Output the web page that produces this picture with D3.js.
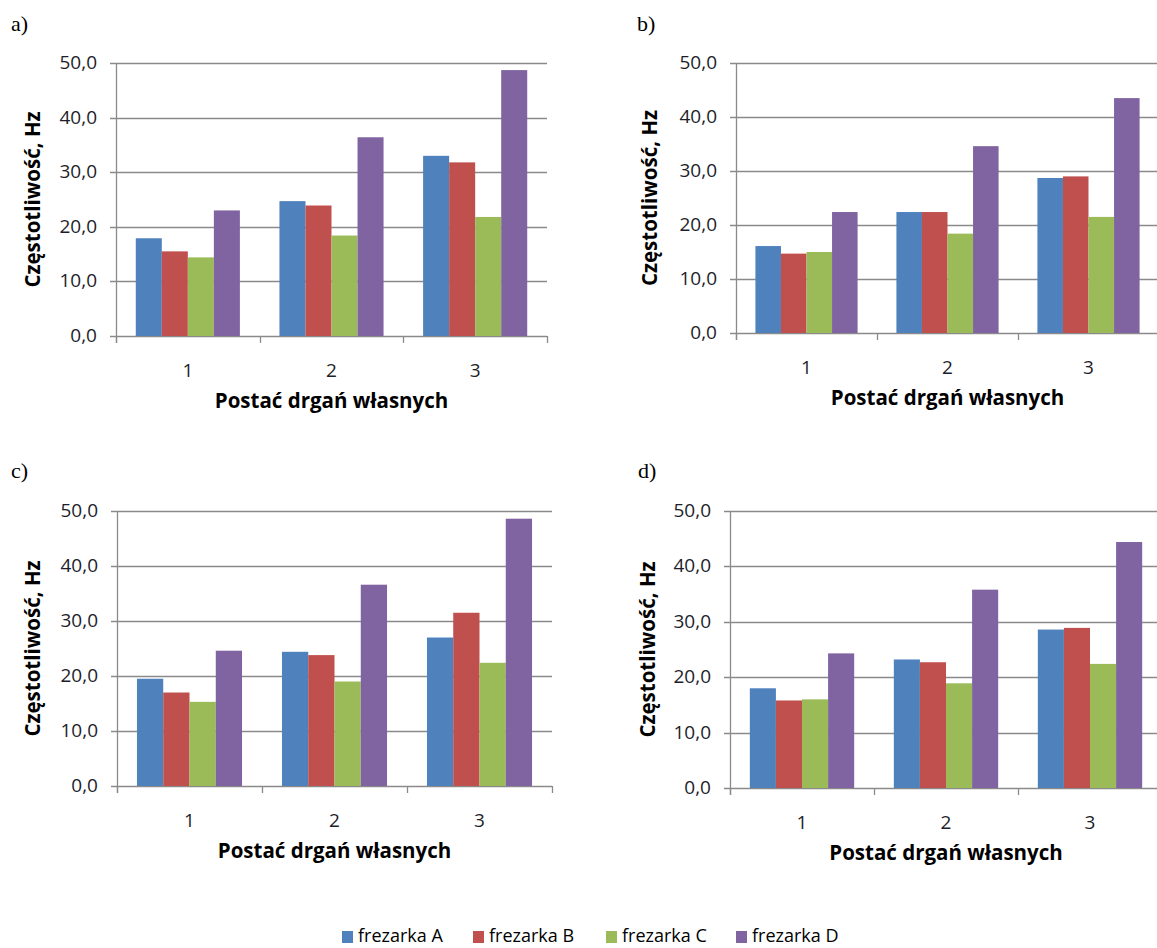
<!DOCTYPE html>
<html>
<head>
<meta charset="utf-8">
<script src="https://cdn.jsdelivr.net/npm/d3@7"></script>
<style>
  body { margin: 0; background: #fff; }
  svg { display: block; }
  .tick-label { font-family: "Open Sans", Lato, sans-serif; font-size: 19px; fill: #1e1e2a; }
  .axis-title { font-family: "Open Sans", Lato, sans-serif; font-size: 20.5px; font-weight: bold; fill: #000; }
  .panel-label { font-family: "Liberation Serif", "Times New Roman", serif; font-size: 22px; fill: #000; }
  .legend-label { font-family: "Open Sans", Lato, sans-serif; font-size: 18px; fill: #000; }
</style>
</head>
<body>
<div id="chart"></div>
<script>
// categories and series
const categories = ["1", "2", "3"];
const seriesNames = ["frezarka A", "frezarka B", "frezarka C", "frezarka D"];
const seriesColors = ["#4F81BD", "#C0504D", "#9BBB59", "#8064A2"];
const yTicks = [0, 10, 20, 30, 40, 50];

// values per panel: one row per series (A, B, C, D), one column per category
const valuesA = [
    [17.9, 24.7, 33.0],
    [15.5, 23.9, 31.8],
    [14.4, 18.4, 21.8],
    [23.0, 36.4, 48.7]
];
const valuesB = [
    [16.1, 22.4, 28.7],
    [14.7, 22.4, 29.0],
    [15.0, 18.4, 21.5],
    [22.4, 34.6, 43.5]
];
const valuesC = [
    [19.5, 24.4, 27.0],
    [17.0, 23.8, 31.5],
    [15.3, 19.0, 22.4],
    [24.6, 36.6, 48.6]
];
const valuesD = [
    [18.0, 23.2, 28.6],
    [15.8, 22.7, 28.9],
    [16.0, 18.9, 22.4],
    [24.3, 35.8, 44.4]
];

const yTitle = "Częstotliwość, Hz";
const xTitle = "Postać drgań własnych";

// layout of the four panels
const panels = [
    { label: "a)", values: valuesA, x0: 116, x1: 547, top: 63, zero: 336, lx: 11, ly: 31, ytx: 33 },
    { label: "b)", values: valuesB, x0: 736, x1: 1159, top: 63, zero: 333, lx: 637, ly: 31, ytx: 650 },
    { label: "c)", values: valuesC, x0: 117, x1: 552, top: 511, zero: 786, lx: 11, ly: 478, ytx: 33 },
    { label: "d)", values: valuesD, x0: 730, x1: 1162, top: 511, zero: 788, lx: 638, ly: 478, ytx: 648 }
];

const width = 1157, height = 948;
const gridColor = "#8a8a8a";
const fmt = v => d3.format(".1f")(v).replace(".", ",");

const svg = d3.select("#chart")
    .append("svg")
    .attr("width", width)
    .attr("height", height);

svg.append("rect").attr("width", width).attr("height", height).attr("fill", "#fff");

panels.forEach(p => {
    const g = svg.append("g");

    const x = d3.scaleBand().domain(categories).range([p.x0, p.x1]).paddingInner(0).paddingOuter(0);
    const xs = d3.scaleBand().domain(seriesNames).range([0, x.bandwidth()]).paddingInner(0).paddingOuter(0.76);
    const y = d3.scaleLinear().domain([0, 50]).range([p.zero, p.top]);

    // gridlines with short outer ticks
    g.append("g").selectAll("line")
        .data(yTicks)
        .join("line")
        .attr("x1", p.x0 - 6)
        .attr("x2", p.x1)
        .attr("y1", d => Math.round(y(d)) + 0.5)
        .attr("y2", d => Math.round(y(d)) + 0.5)
        .attr("stroke", gridColor)
        .attr("stroke-width", 1.3);

    // y tick labels
    g.append("g").selectAll("text")
        .data(yTicks)
        .join("text")
        .attr("class", "tick-label")
        .attr("x", p.x0 - 19)
        .attr("y", d => y(d) + 6)
        .attr("text-anchor", "end")
        .text(fmt);

    // bars
    seriesNames.forEach((s, si) => {
        g.append("g").selectAll("rect")
            .data(p.values[si].map((v, ci) => ({ cat: categories[ci], v })))
            .join("rect")
            .attr("x", d => x(d.cat) + xs(s))
            .attr("y", d => y(d.v))
            .attr("width", xs.bandwidth())
            .attr("height", d => y(0) - y(d.v))
            .attr("fill", seriesColors[si]);
    });

    // y axis line
    g.append("line")
        .attr("x1", Math.round(p.x0) + 0.5).attr("x2", Math.round(p.x0) + 0.5)
        .attr("y1", p.top).attr("y2", p.zero + 7)
        .attr("stroke", gridColor).attr("stroke-width", 1.3);

    // x category boundary ticks
    const bounds = categories.map(c => x(c)).concat([p.x1]);
    g.append("g").selectAll("line")
        .data(bounds)
        .join("line")
        .attr("x1", d => Math.round(d) + 0.5).attr("x2", d => Math.round(d) + 0.5)
        .attr("y1", p.zero).attr("y2", p.zero + 7)
        .attr("stroke", gridColor).attr("stroke-width", 1.3);

    // category labels
    g.append("g").selectAll("text")
        .data(categories)
        .join("text")
        .attr("class", "tick-label")
        .attr("x", d => x(d) + x.bandwidth() / 2)
        .attr("y", p.zero + 41)
        .attr("text-anchor", "middle")
        .text(d => d);

    // axis titles
    g.append("text")
        .attr("class", "axis-title")
        .attr("x", (p.x0 + p.x1) / 2)
        .attr("y", p.zero + 72)
        .attr("text-anchor", "middle")
        .text(xTitle);

    g.append("text")
        .attr("class", "axis-title")
        .attr("transform", `translate(${p.ytx + 7},${(p.top + p.zero) / 2}) rotate(-90)`)
        .attr("text-anchor", "middle")
        .text(yTitle);

    // panel letter
    g.append("text")
        .attr("class", "panel-label")
        .attr("x", p.lx)
        .attr("y", p.ly)
        .text(p.label);
});

// legend along the bottom
const legendX = [342, 473, 606, 736];
const legend = svg.append("g");
seriesNames.forEach((s, i) => {
    legend.append("rect")
        .attr("x", legendX[i])
        .attr("y", 931)
        .attr("width", 11)
        .attr("height", 12)
        .attr("fill", seriesColors[i]);
    legend.append("text")
        .attr("class", "legend-label")
        .attr("x", legendX[i] + 16)
        .attr("y", 942)
        .text(s);
});
</script>
</body>
</html>
